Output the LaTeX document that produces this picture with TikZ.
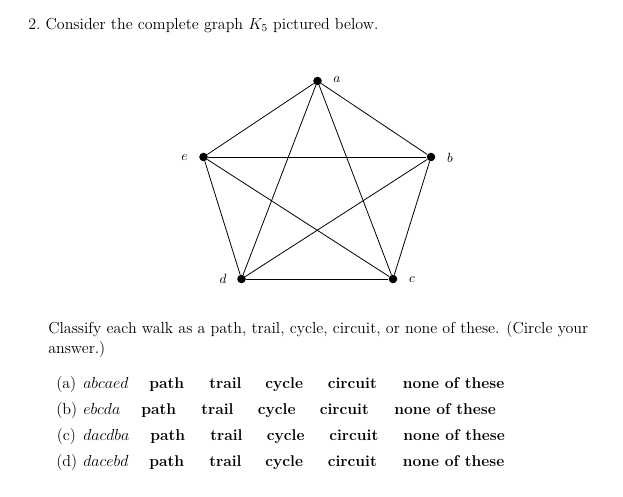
\documentclass[tikz,border=0pt]{standalone}
\begin{document}
\begin{tikzpicture}[x=0.75pt,y=-0.75pt,
  vtx/.style={circle,fill=black,inner sep=0pt,minimum size=6.4pt},
  edge/.style={line width=0.6pt},
  vlabel/.style={inner sep=0pt,font=\fontsize{10}{12}\selectfont},
  txt/.style={anchor=base west,inner sep=0pt,font=\fontsize{11.99}{14}\selectfont},
  ans/.style={anchor=base west,inner sep=0pt,font=\fontsize{11.7}{14}\selectfont\bfseries}]
\useasboundingbox (0,0) rectangle (623,496);
\fill[white] (0,0) rectangle (623,496);
% heading
\node[txt] (title) at (28,29) {2.\ Consider the complete graph $K_5$ pictured below.};
% graph
\node[vtx] (a) at (317.5,81) {};
\node[vtx] (b) at (431,157) {};
\node[vtx] (c) at (393,279) {};
\node[vtx] (d) at (241.5,279) {};
\node[vtx] (e) at (203.5,157) {};
\node[vlabel] (la) at (337,80) {$a$};
\node[vlabel] (lb) at (450,158) {$b$};
\node[vlabel] (lc) at (412,280) {$c$};
\node[vlabel] (ld) at (223,279) {$d$};
\node[vlabel] (le) at (184.5,158) {$e$};
\draw[edge] (a) -- (b);
\draw[edge] (a) -- (c);
\draw[edge] (a) -- (d);
\draw[edge] (a) -- (e);
\draw[edge] (b) -- (c);
\draw[edge] (b) -- (d);
\draw[edge] (b) -- (e);
\draw[edge] (c) -- (d);
\draw[edge] (c) -- (e);
\draw[edge] (d) -- (e);
% instructions
\node[txt] (q1) at (48,333) {Classify each walk as a path, trail, cycle, circuit, or none of these. (Circle your};
\node[txt] (q2) at (48,353) {answer.)};
% row a
\node[txt] (ra) at (56,388) {(a)};
\node[txt] (wa) at (83,388) {$abcaed$};
\node[ans] (pa) at (149,388) {path};
\node[ans] (ta) at (209,388) {trail};
\node[ans] (ya) at (265,388) {cycle};
\node[ans] (ca) at (327.5,388) {circuit};
\node[ans] (na) at (402.5,388) {none of these};
% row b
\node[txt] (rb) at (56,414) {(b)};
\node[txt] (wb) at (83,414) {$ebcda$};
\node[ans] (pb) at (141,414) {path};
\node[ans] (tb) at (201,414) {trail};
\node[ans] (yb) at (257.5,414) {cycle};
\node[ans] (cb) at (319.5,414) {circuit};
\node[ans] (nb) at (394,414) {none of these};
% row c
\node[txt] (rc) at (56.5,440) {(c)};
\node[txt] (wc) at (83,440) {$dacdba$};
\node[ans] (pc) at (150,440) {path};
\node[ans] (tc) at (210,440) {trail};
\node[ans] (yc) at (266.5,440) {cycle};
\node[ans] (cc) at (329,440) {circuit};
\node[ans] (nc) at (403,440) {none of these};
% row d
\node[txt] (rd) at (56,466) {(d)};
\node[txt] (wd) at (83,466) {$dacebd$};
\node[ans] (pd) at (149,466) {path};
\node[ans] (td) at (209,466) {trail};
\node[ans] (yd) at (265,466) {cycle};
\node[ans] (cd) at (327.5,466) {circuit};
\node[ans] (nd) at (402.5,466) {none of these};
\end{tikzpicture}
\end{document}
